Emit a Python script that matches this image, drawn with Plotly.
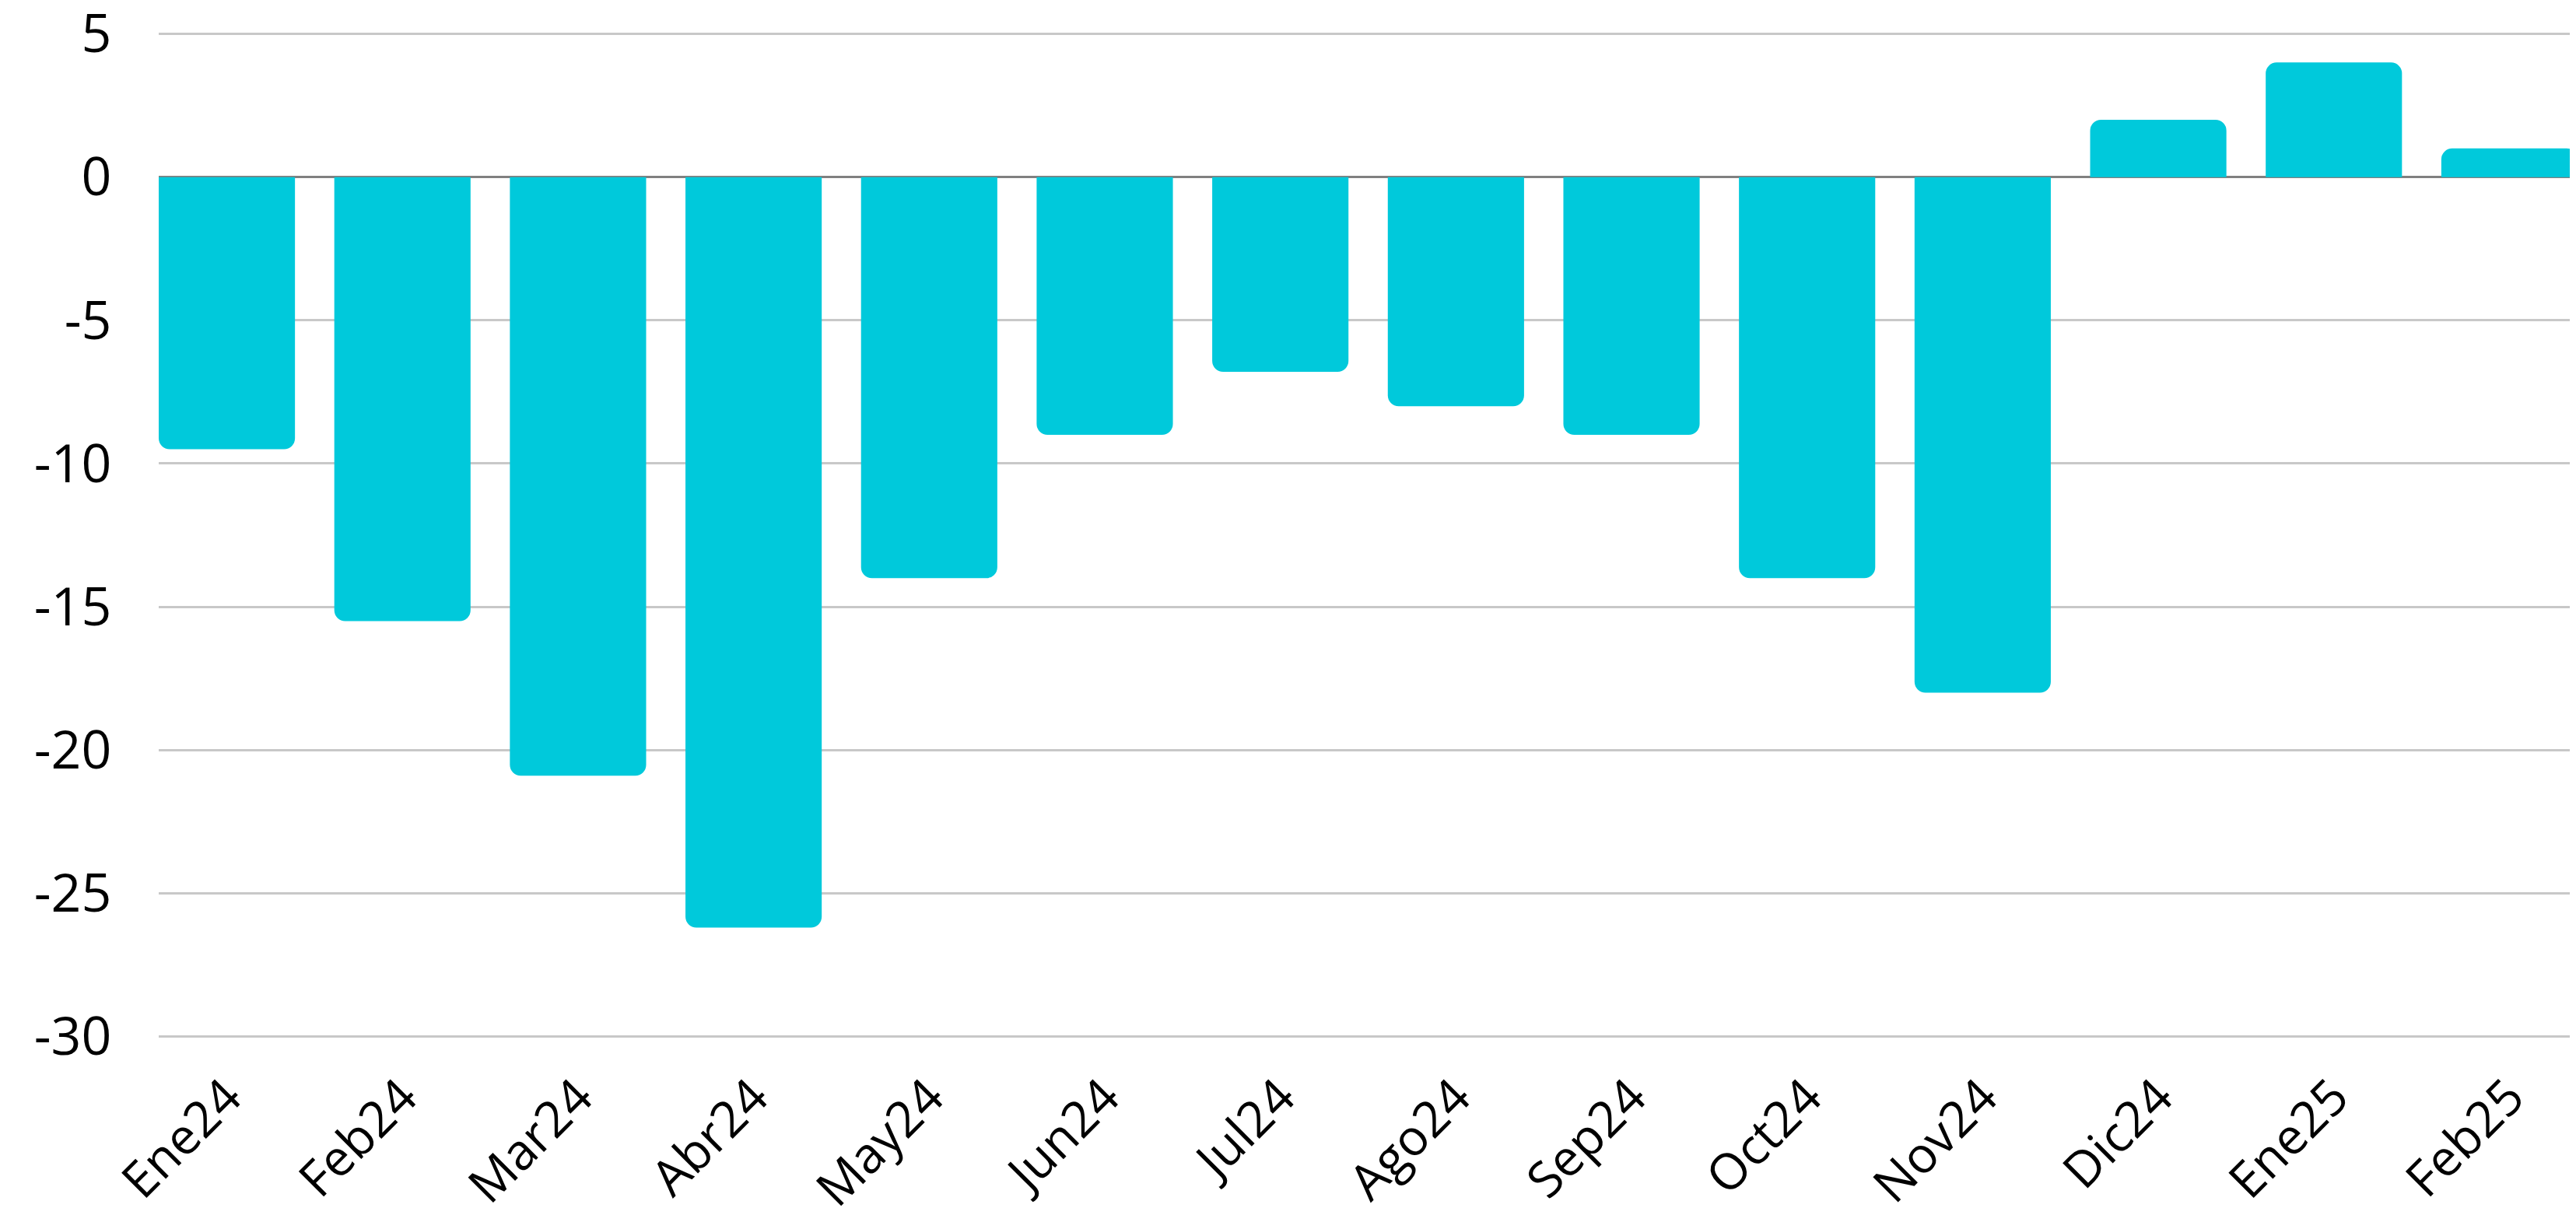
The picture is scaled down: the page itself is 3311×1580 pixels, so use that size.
import plotly.graph_objects as go

categories = ["Ene24", "Feb24", "Mar24", "Abr24", "May24", "Jun24", "Jul24",
              "Ago24", "Sep24", "Oct24", "Nov24", "Dic24", "Ene25", "Feb25"]
values = [-9.5, -15.5, -20.9, -26.2, -14.0, -9.0, -6.8,
          -8.0, -9.0, -14.0, -18.0, 2.0, 4.0, 1.0]
y_ticks = [5, 0, -5, -10, -15, -20, -25, -30]
y_tick_labels = ["5", "0", "-5", "-10", "-15", "-20", "-25", "-30"]

bar_w = 0.776

fig = go.Figure(go.Bar(
    x=list(range(len(categories))),
    y=values,
    width=bar_w,
    marker=dict(color="#00C9DB", cornerradius=14, line=dict(width=0)),
    hoverinfo="skip",
))

fig.update_layout(
    width=3311, height=1580,
    margin=dict(l=196, r=6, t=30, b=250),
    paper_bgcolor="white", plot_bgcolor="white",
    font=dict(family="Open Sans", color="#000000", size=60),
    showlegend=False,
    xaxis=dict(
        tickmode="array",
        tickvals=list(range(len(categories))),
        ticktext=categories,
        tickangle=-45,
        range=[-bar_w / 2, len(categories) - 1 + bar_w / 2],
        showgrid=False, zeroline=False, showline=False,
        ticks="outside", ticklen=8, tickcolor="rgba(0,0,0,0)",
        tickfont=dict(size=64),
        ticklabeloverflow="allow", automargin=False,
    ),
    yaxis=dict(
        range=[-30.15, 5.15],
        tickmode="array", tickvals=y_ticks, ticktext=y_tick_labels,
        showgrid=True, gridcolor="#C8C8C8", gridwidth=2.5,
        zeroline=True, zerolinecolor="#808080", zerolinewidth=2.5,
        showline=False,
        ticks="outside", ticklen=46, tickcolor="rgba(0,0,0,0)",
        tickfont=dict(size=68),
        ticklabeloverflow="allow", automargin=False,
    ),
)

fig.write_html("out.html")
